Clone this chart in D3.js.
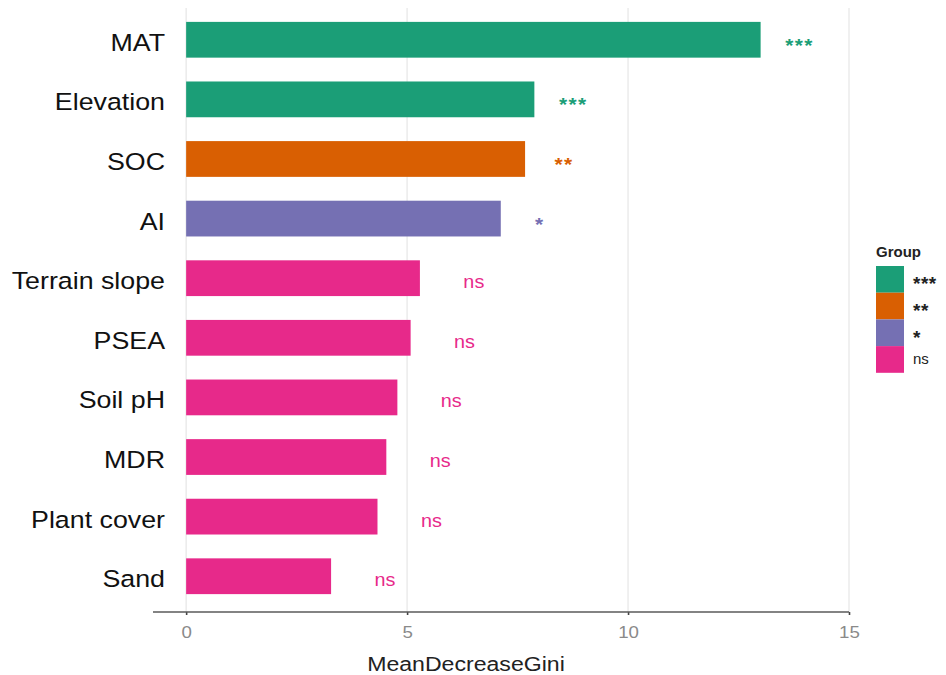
<!DOCTYPE html>
<html>
<head>
<meta charset="utf-8">
<script src="https://cdn.jsdelivr.net/npm/d3@7/dist/d3.min.js"></script>
<style>
  html, body { margin: 0; padding: 0; background: #ffffff; }
  svg { display: block; font-family: "Liberation Sans", Arial, sans-serif; }
</style>
</head>
<body>
<svg id="chart" width="946" height="675"></svg>
<script>
const categories = ["MAT", "Elevation", "SOC", "AI", "Terrain slope", "PSEA", "Soil pH", "MDR", "Plant cover", "Sand"];
const values = [13.0, 7.88, 7.67, 7.12, 5.29, 5.08, 4.78, 4.53, 4.33, 3.28];
const groups = ["***", "***", "**", "*", "ns", "ns", "ns", "ns", "ns", "ns"];
const groupLevels = ["***", "**", "*", "ns"];
const groupColors = ["#1b9e77", "#d95f02", "#7570b3", "#e7298a"];
const xTicks = [0, 5, 10, 15];
const xTitle = "MeanDecreaseGini";
const legendTitle = "Group";

const data = categories.map((c, i) => ({ cat: c, value: values[i], group: groups[i] }));

const svg = d3.select("#chart");
const panel = { left: 153, right: 849, top: 4, bottom: 612 };

const x = d3.scaleLinear().domain([-0.75, 15]).range([panel.left, panel.right]);
const y = d3.scaleBand().domain(categories).range([panel.top, panel.bottom])
  .paddingInner(0.4).paddingOuter(0.3);
const color = d3.scaleOrdinal().domain(groupLevels).range(groupColors);

const SX = 1.1; // horizontal stretch of the reference text

// vertical gridlines
svg.append("g").selectAll("line").data(xTicks).join("line")
  .attr("x1", d => x(d)).attr("x2", d => x(d))
  .attr("y1", 8).attr("y2", panel.bottom)
  .attr("stroke", "#e6e6e6").attr("stroke-width", 1.2);

// bars
svg.append("g").selectAll("rect").data(data).join("rect")
  .attr("x", x(0))
  .attr("y", d => y(d.cat))
  .attr("width", d => x(d.value) - x(0))
  .attr("height", y.bandwidth())
  .attr("fill", d => color(d.group));

// significance labels
svg.append("g").selectAll("text").data(data).join("text")
  .attr("transform", d => {
    const isNs = d.group === "ns";
    const cx = x(d.value + (isNs ? 1.22 : 0.88));
    const cy = y(d.cat) + y.bandwidth() / 2 + (isNs ? 10 : 12);
    return `translate(${cx},${cy}) scale(${SX},1)`;
  })
  .attr("text-anchor", "middle")
  .attr("fill", d => color(d.group))
  .attr("font-size", d => d.group === "ns" ? 18 : 19)
  .attr("font-weight", d => d.group === "ns" ? "normal" : "bold")
  .attr("letter-spacing", d => d.group === "ns" ? 0 : 1.2)
  .text(d => d.group);

// y axis labels
svg.append("g").selectAll("text").data(categories).join("text")
  .attr("transform", d => `translate(165,${y(d) + y.bandwidth() / 2 + 11}) scale(1.14,1)`)
  .attr("text-anchor", "end")
  .attr("font-size", 23.5)
  .attr("fill", "#111")
  .text(d => d);

// x axis
const xAxis = d3.axisBottom(x).tickValues(xTicks).tickSize(3).tickFormat(d3.format("d"));
const gx = svg.append("g").attr("transform", `translate(0,${panel.bottom})`).call(xAxis);
gx.select(".domain").remove();
gx.append("line").attr("x1", panel.left).attr("x2", x(15))
  .attr("y1", 0).attr("y2", 0).attr("stroke", "#5a5a5a").attr("stroke-width", 1.6);
gx.selectAll(".tick line").attr("stroke", "#444").attr("stroke-width", 1.6);
gx.selectAll(".tick text")
  .attr("y", 0).attr("dy", null)
  .attr("transform", `translate(0,26) scale(${SX},1)`)
  .attr("font-size", 17)
  .attr("font-family", "Liberation Sans, Arial, sans-serif")
  .attr("fill", "#8a8a8a");

// x title
svg.append("text")
  .attr("transform", `translate(466,671) scale(${SX},1)`)
  .attr("text-anchor", "middle")
  .attr("font-size", 21)
  .attr("fill", "#222")
  .text(xTitle);

// legend
const lg = svg.append("g").attr("transform", "translate(876,0)");
lg.append("text").attr("x", 0).attr("y", 257)
  .attr("font-size", 15).attr("font-weight", "bold").attr("fill", "#222")
  .text(legendTitle);
const keyH = 26.7;
const items = lg.selectAll("g.item").data(groupLevels).join("g")
  .attr("class", "item")
  .attr("transform", (d, i) => `translate(0,${266 + i * keyH})`);
items.append("rect").attr("width", 28).attr("height", keyH).attr("fill", d => color(d));
items.append("text")
  .attr("x", 37)
  .attr("y", d => d === "ns" ? keyH / 2 + 5 : keyH / 2 + 11)
  .attr("font-size", d => d === "ns" ? 15 : 19)
  .attr("font-weight", d => d === "ns" ? "normal" : "bold")
  .attr("letter-spacing", d => d === "ns" ? 0 : 0.5)
  .attr("fill", "#222")
  .text(d => d);
</script>
</body>
</html>
